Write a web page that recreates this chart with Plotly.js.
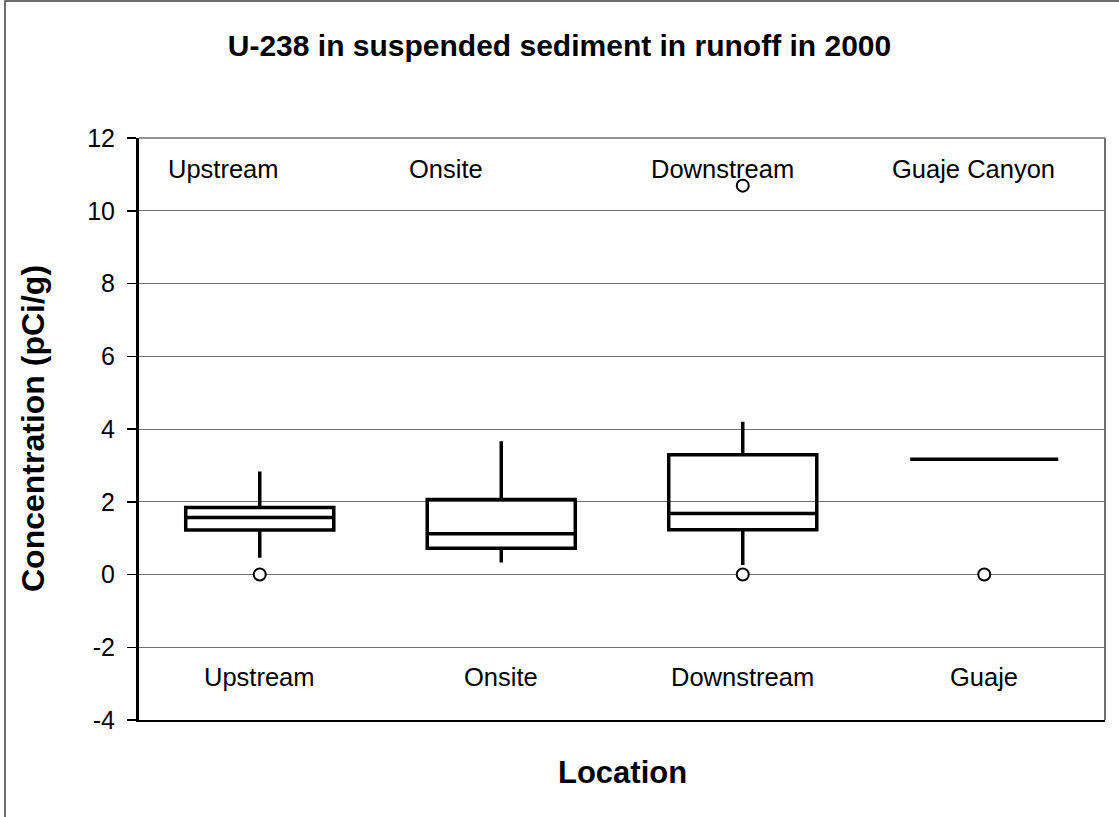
<!DOCTYPE html>
<html>
<head>
<meta charset="utf-8">
<script src="https://cdn.plot.ly/plotly-3.0.1.min.js"></script>
<style>html,body{margin:0;padding:0;background:#fff;}#chart{width:1119px;height:817px;}</style>
</head>
<body>
<div id="chart"></div>
<script>
// ---- data ----
const locations = ["Upstream", "Onsite", "Downstream", "Guaje"];
const topLabels = ["Upstream", "Onsite", "Downstream", "Guaje Canyon"];
const bottomLabels = ["Upstream", "Onsite", "Downstream", "Guaje"];
const q1Values = [1.22, 0.72, 1.23, 3.17];
const medianValues = [1.57, 1.12, 1.68, 3.17];
const q3Values = [1.84, 2.06, 3.29, 3.17];
const lowerWhisker = [0.46, 0.33, 0.26, 3.17];
const upperWhisker = [2.83, 3.66, 4.20, 3.17];
const outlierLocation = [0, 2, 2, 3];
const outlierValues = [0, 0, 10.69, 0];
const yTickValues = [-4, -2, 0, 2, 4, 6, 8, 10, 12];

const FONT = "Liberation Sans, Arial, sans-serif";
const idx = locations.map((_, i) => i);

const boxTrace = {
  type: "box",
  x: idx,
  q1: q1Values,
  median: medianValues,
  q3: q3Values,
  lowerfence: lowerWhisker,
  upperfence: upperWhisker,
  width: 0.613,
  whiskerwidth: 0,
  boxpoints: false,
  fillcolor: "rgba(255,255,255,0)",
  line: { color: "#000", width: 3.5 },
  hoverinfo: "skip",
  showlegend: false
};

const outlierTrace = {
  type: "scatter",
  mode: "markers",
  x: outlierLocation,
  y: outlierValues,
  marker: { symbol: "circle", size: 12, color: "#fff", line: { color: "#000", width: 2 } },
  cliponaxis: false,
  showlegend: false,
  hoverinfo: "skip"
};

const annotations = [];
topLabels.forEach((t, i) => annotations.push({
  x: idx[i] - 0.39, y: 11.15, xref: "x", yref: "y", text: t, showarrow: false,
  xanchor: "left", yanchor: "middle", font: { family: FONT, size: 25.5, color: "#000" }
}));
bottomLabels.forEach((t, i) => annotations.push({
  x: idx[i], y: -2.82, xref: "x", yref: "y", text: t, showarrow: false,
  xanchor: "center", yanchor: "middle", font: { family: FONT, size: 25.5, color: "#000" }
}));
annotations.push({
  xref: "paper", yref: "paper", x: (33 - 139) / 966, y: 0.5,
  text: "<b>Concentration (pCi/g)</b>", textangle: -90, showarrow: false,
  xanchor: "center", yanchor: "middle", font: { family: FONT, size: 32, color: "#000" }
});
annotations.push({
  xref: "paper", yref: "paper", x: 0.5, y: (720 - 772) / 582,
  text: "<b>Location</b>", showarrow: false,
  xanchor: "center", yanchor: "middle", font: { family: FONT, size: 31, color: "#000" }
});

const layout = {
  width: 1119, height: 817,
  paper_bgcolor: "#fff", plot_bgcolor: "#fff",
  margin: { l: 139, r: 14, t: 138, b: 97, pad: 0 },
  title: {
    text: "<b>U-238 in suspended sediment in runoff in 2000</b>",
    xref: "container", yref: "container", x: 0.5, y: 1 - 45 / 817,
    xanchor: "center", yanchor: "middle",
    font: { family: FONT, size: 30, color: "#000" }
  },
  xaxis: {
    range: [-0.5, 3.5], showgrid: false, zeroline: false,
    showticklabels: false, ticks: "",
    showline: true, linecolor: "#000", linewidth: 2, fixedrange: true
  },
  yaxis: {
    range: [-4, 12], tickvals: yTickValues, ticktext: yTickValues.map(String),
    showgrid: true, gridcolor: "#707070", gridwidth: 1,
    zeroline: false, showline: true, linecolor: "#000", linewidth: 3,
    ticks: "outside", ticklen: 9, tickwidth: 1.5, tickcolor: "#000",
    ticklabelstandoff: 7,
    tickfont: { family: FONT, size: 25, color: "#000" }, fixedrange: true
  },
  showlegend: false,
  annotations: annotations,
  shapes: [
    { type: "line", xref: "paper", yref: "paper", x0: 0, x1: 1, y0: 1, y1: 1,
      line: { color: "#707070", width: 1.5 } },
    { type: "line", xref: "paper", yref: "paper", x0: 1, x1: 1, y0: 0, y1: 1,
      line: { color: "#707070", width: 2 } },
    { type: "rect", xref: "paper", yref: "paper",
      x0: (5 - 139) / 966, x1: (1130 - 139) / 966, y0: (720 - 830) / 582, y1: (720 - 1) / 582,
      line: { color: "#404040", width: 1.5 }, layer: "below" }
  ]
};

Plotly.newPlot("chart", [boxTrace, outlierTrace], layout, { displayModeBar: false, staticPlot: true });
</script>
</body>
</html>
